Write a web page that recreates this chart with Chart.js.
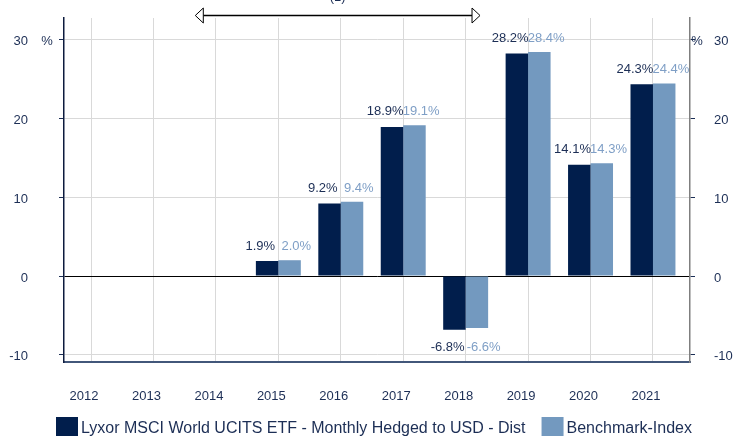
<!DOCTYPE html>
<html>
<head>
<meta charset="utf-8">
<script src="https://cdn.jsdelivr.net/npm/chart.js@4"></script>
<style>
  html, body { margin: 0; padding: 0; background: #fff; overflow: hidden; }
  #wrap { width: 734px; height: 436px; }
</style>
</head>
<body>
<div id="wrap"><canvas id="chart"></canvas></div>
<script>
// Valeurs
const YEARS = [2012, 2013, 2014, 2015, 2016, 2017, 2018, 2019, 2020, 2021];
const FUND = [null, null, null, 1.9, 9.2, 18.9, -6.8, 28.2, 14.1, 24.3];
const BENCH = [null, null, null, 2.0, 9.4, 19.1, -6.6, 28.4, 14.3, 24.4];
const Y_TICKS = [-10, 0, 10, 20, 30];
const LABELS = ["Lyxor MSCI World UCITS ETF - Monthly Hedged to USD - Dist", "Benchmark-Index"];
const ARROW_SPAN = [2013.67, 2018.23];

const COLORS = {
  fund: "#011e4c",
  bench: "#7399bf",
  fundText: "#1c2e55",
  benchText: "#7f9fc6",
  navy: "#1c2e55",
  grid: "#d9d9d9",
};
const FONT = "'Liberation Sans', Arial, sans-serif";

Chart.defaults.font.family = FONT;
Chart.defaults.font.size = 13;
Chart.defaults.color = COLORS.navy;

// étiquettes, flèche, signes % et légende
const overlay = {
  id: "overlay",
  afterDraw(chart) {
    const { ctx, chartArea } = chart;
    const x = chart.scales.x, y = chart.scales.y;
    ctx.save();
    ctx.font = `13px ${FONT}`;
    ctx.textAlign = "center";
    ctx.textBaseline = "middle";

    YEARS.forEach((yr, i) => {
      const a = FUND[i], b = BENCH[i];
      if (a == null) return;
      const cx = x.getPixelForValue(yr);
      const ly = a >= 0 ? y.getPixelForValue(a) - 15 : y.getPixelForValue(a) + 18;
      ctx.fillStyle = COLORS.fundText;
      ctx.fillText(a.toFixed(1) + "%", cx - 18, ly);
      ctx.fillStyle = COLORS.benchText;
      ctx.fillText(b.toFixed(1) + "%", cx + 18, ly);
    });

    // signes %
    const p30 = y.getPixelForValue(30) + 2.5;
    ctx.fillStyle = COLORS.navy;
    ctx.fillText("%", chartArea.left - 17, p30);
    ctx.fillText("%", chartArea.right + 7, p30);

    // flèche double
    const ax0 = x.getPixelForValue(ARROW_SPAN[0]);
    const ax1 = x.getPixelForValue(ARROW_SPAN[1]);
    const ay = 15.5;
    ctx.strokeStyle = "#000";
    ctx.lineWidth = 1.5;
    ctx.beginPath();
    ctx.moveTo(ax0 + 8, ay);
    ctx.lineTo(ax1 - 8, ay);
    ctx.stroke();
    ctx.fillStyle = "#fff";
    ctx.lineWidth = 1;
    [[ax0, 1], [ax1, -1]].forEach(([tx, d]) => {
      ctx.beginPath();
      ctx.moveTo(tx, ay);
      ctx.lineTo(tx + 8 * d, ay - 7.5);
      ctx.lineTo(tx + 8 * d, ay + 7.5);
      ctx.closePath();
      ctx.fill();
      ctx.stroke();
    });
    ctx.fillStyle = COLORS.navy;
    ctx.textBaseline = "alphabetic";
    ctx.fillText("(1)", (ax0 + ax1) / 2, 0.5);

    // légende
    ctx.font = `16px ${FONT}`;
    ctx.textAlign = "left";
    let lx = chartArea.left - 8;
    const ly = 417;
    [COLORS.fund, COLORS.bench].forEach((c, i) => {
      ctx.fillStyle = c;
      ctx.fillRect(lx, ly, 22, 22);
      lx += 25;
      ctx.fillStyle = COLORS.navy;
      ctx.fillText(LABELS[i], lx, 433);
      lx += ctx.measureText(LABELS[i]).width + 16;
    });
    ctx.restore();
  },
};

const yTicks = (scale) => { scale.ticks = Y_TICKS.map((v) => ({ value: v })); };
const noPad = (scale) => {
  scale.paddingTop = scale.paddingBottom = 0;
  scale.paddingLeft = scale.paddingRight = 0;
};

new Chart(document.getElementById("chart"), {
  type: "bar",
  data: {
    datasets: [
      { label: LABELS[0], data: YEARS.map((yr, i) => ({ x: yr, y: FUND[i] })), backgroundColor: COLORS.fund, yAxisID: "y" },
      { label: LABELS[1], data: YEARS.map((yr, i) => ({ x: yr, y: BENCH[i] })), backgroundColor: COLORS.bench, yAxisID: "y" },
    ],
  },
  options: {
    responsive: true,
    maintainAspectRatio: false,
    animation: false,
    layout: { padding: { top: 18, left: 0, right: 0, bottom: 0 } },
    datasets: { bar: { categoryPercentage: 0.72, barPercentage: 1.0 } },
    plugins: { legend: { display: false }, tooltip: { enabled: false } },
    scales: {
      x: {
        type: "linear",
        position: "bottom",
        offset: false,
        min: 2011.567,
        max: 2021.593,
        afterBuildTicks: (scale) => { scale.ticks = YEARS.map((v) => ({ value: v })); },
        afterFit: (scale) => { scale.height = 74; noPad(scale); },
        ticks: { padding: 27, labelOffset: -7, color: COLORS.navy, callback: (v) => String(v), maxRotation: 0, autoSkip: false },
        grid: { color: COLORS.grid, drawTicks: false, offset: false },
        border: { color: "#42577a", width: 2 },
      },
      y: {
        position: "left",
        min: -10.9,
        max: 32.7,
        afterBuildTicks: yTicks,
        afterFit: (scale) => { scale.width = 64; noPad(scale); },
        ticks: { padding: 31, labelOffset: 2, color: COLORS.navy },
        grid: {
          color: (c) => (c.tick && c.tick.value === 0 ? "#000" : COLORS.grid),
          tickColor: COLORS.navy,
          tickLength: 5,
        },
        border: { color: "#0d1b3e", width: 1.5 },
      },
      y2: {
        position: "right",
        min: -10.9,
        max: 32.7,
        afterBuildTicks: yTicks,
        afterFit: (scale) => { scale.width = 44; noPad(scale); },
        ticks: { padding: 19, labelOffset: 2, color: COLORS.navy },
        grid: { drawOnChartArea: false, tickColor: COLORS.navy, tickLength: 5 },
        border: { color: "#7f7f7f", width: 1.5 },
      },
    },
  },
  plugins: [overlay],
});
</script>
</body>
</html>
